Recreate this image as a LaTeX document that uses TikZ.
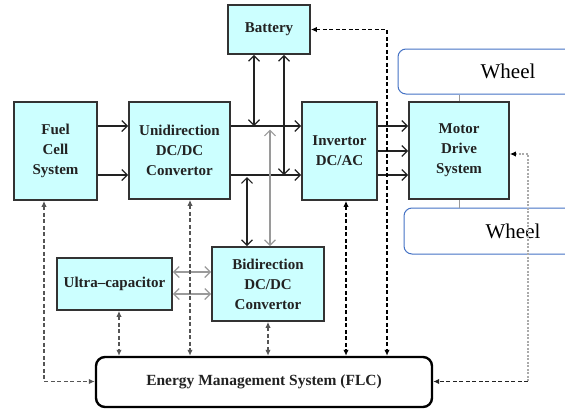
\documentclass[tikz,border=0pt]{standalone}
\usepackage{fontspec}
\setmainfont{Liberation Serif}
\usetikzlibrary{arrows.meta,calc}
\definecolor{boxfill}{HTML}{CCFFFF}
\definecolor{boxline}{HTML}{333333}
\definecolor{wheelline}{HTML}{4472C4}
\definecolor{lgray}{HTML}{9A9A9A}
\definecolor{mgray}{HTML}{555555}
\definecolor{dgray}{HTML}{222222}
\definecolor{dotgray}{HTML}{AAAAAA}
\begin{document}
\begin{tikzpicture}[x=1pt,y=-1pt,
  blk/.style={draw=boxline, line width=1.8pt, fill=boxfill, inner sep=0pt, align=center,
    font=\bfseries\fontsize{15}{20}\selectfont, text=dgray},
  wheelbox/.style={draw=wheelline, line width=1pt, rounded corners=8pt, inner sep=0pt,
    font=\fontsize{21}{24}\selectfont},
  emsbox/.style={draw=black, line width=2.4pt, rounded corners=9pt, inner sep=0pt,
    font=\bfseries\fontsize{15.5}{18}\selectfont, text=dgray},
  ctip/.tip={Straight Barb[length=5.5pt,width=11pt]},
  dtip/.tip={Latex[length=6pt,width=5.5pt]},
  pw/.style={line width=1.2pt, draw=dgray},
  pwg/.style={line width=1.2pt, draw=lgray},
  dsh/.style={line width=1.4pt, dash pattern=on 4pt off 2.5pt},
  dotline/.style={line width=1.3pt, draw=dotgray, dash pattern=on 2pt off 1.5pt},
]
\useasboundingbox (0,0) rectangle (565,410);
\clip (0,0) rectangle (565,410);

% helper coordinates
\coordinate (yA) at (0,126);
\coordinate (yB) at (0,175);
\coordinate (yM) at (0,151);
\coordinate (yU1) at (0,272);
\coordinate (yU2) at (0,294);
\coordinate (xB1) at (254,0);
\coordinate (xB2) at (284,0);
\coordinate (xK) at (247,0);
\coordinate (xG) at (270,0);
\coordinate (xF) at (44,0);
\coordinate (xUc) at (119,0);
\coordinate (xUn) at (190,0);
\coordinate (xBi) at (268,0);
\coordinate (xIn) at (346,0);
\coordinate (xBat) at (387,0);
\coordinate (xMot) at (528,0);
\coordinate (yE) at (0,381.5);
\coordinate (yMot) at (0,154);

% wheels
\node[wheelbox, minimum width=220pt, minimum height=45pt] (w1) at (508,71.5) {Wheel};
\node[wheelbox, minimum width=218pt, minimum height=46pt] (w2) at (513,231) {Wheel};

% blocks
\node[blk, minimum width=82pt, minimum height=49pt] (bat) at (269,29.5) {Battery};
\node[blk, minimum width=83pt, minimum height=98pt] (fc) at (55.5,151) {Fuel\\Cell\\System};
\node[blk, minimum width=101pt, minimum height=97pt] (uni) at (179.5,150.5) {Unidirection\\DC/DC\\Convertor};
\node[blk, minimum width=75pt, minimum height=98pt] (inv) at (339.5,151) {Invertor\\DC/AC};
\node[blk, minimum width=100pt, minimum height=97pt] (mot) at (459,150.5) {Motor\\Drive\\System};
\node[blk, minimum width=115pt, minimum height=52pt] (uc) at (114.5,284) {Ultra–capacitor};
\node[blk, minimum width=112pt, minimum height=74pt] (bi) at (268,284) {Bidirection\\DC/DC\\Convertor};
\node[emsbox, minimum width=336pt, minimum height=50pt] (ems) at (264,382) {Energy Management System (FLC)};

% motor to wheels
\draw[lgray, line width=0.8pt] (mot.north) -- (mot.north |- w1.south);
\draw[lgray, line width=0.8pt] (mot.south) -- (mot.south |- w2.north);

% power connectors
\draw[pw, -ctip] (fc.east |- yA) -- (uni.west |- yA);
\draw[pw, -ctip] (fc.east |- yB) -- (uni.west |- yB);
\draw[pw, -ctip] (uni.east |- yA) -- (inv.west |- yA);
\draw[pw, -ctip] (uni.east |- yB) -- (inv.west |- yB);
\draw[pw, -ctip] (inv.east |- yA) -- (mot.west |- yA);
\draw[pw, -ctip] (inv.east |- yM) -- (mot.west |- yM);
\draw[pw, -ctip] (inv.east |- yB) -- (mot.west |- yB);
\draw[pw, ctip-ctip] (bat.south -| xB1) -- (xB1 |- yA);
\draw[pw, ctip-ctip] (bat.south -| xB2) -- (xB2 |- yB);
\draw[pw, ctip-ctip] ($(xK |- yB)+(0,2)$) -- (bi.north -| xK);
\draw[pwg, ctip-ctip] ($(xG |- yA)+(0,3.5)$) -- (bi.north -| xG);
\draw[pwg, ctip-ctip] (uc.east |- yU1) -- (bi.west |- yU1);
\draw[pwg, ctip-ctip] (uc.east |- yU2) -- (bi.west |- yU2);

% control (dashed) connectors
\draw[dsh, draw=mgray, dtip-dtip] (fc.south -| xF) -- (xF |- yE) -- (ems.west |- yE);
\draw[dsh, draw=mgray, dtip-dtip] (uc.south -| xUc) -- (ems.north -| xUc);
\draw[dsh, draw=mgray, dtip-dtip] (uni.south -| xUn) -- (ems.north -| xUn);
\draw[dsh, draw=mgray, dtip-dtip] (bi.south -| xBi) -- (ems.north -| xBi);
\draw[dsh, draw=black, dtip-dtip] (inv.south -| xIn) -- (ems.north -| xIn);
\draw[dsh, draw=black, dtip-dtip] (bat.east) -- (xBat |- bat.east) -- (ems.north -| xBat);
\draw[dotline, {Latex[length=6pt,width=5.5pt,color=black]}-] (mot.east |- yMot) -- (xMot |- yMot) -- (xMot |- yE);
\draw[dsh, draw=dgray, -dtip] (xMot |- yE) -- (ems.east |- yE);
\end{tikzpicture}
\end{document}
